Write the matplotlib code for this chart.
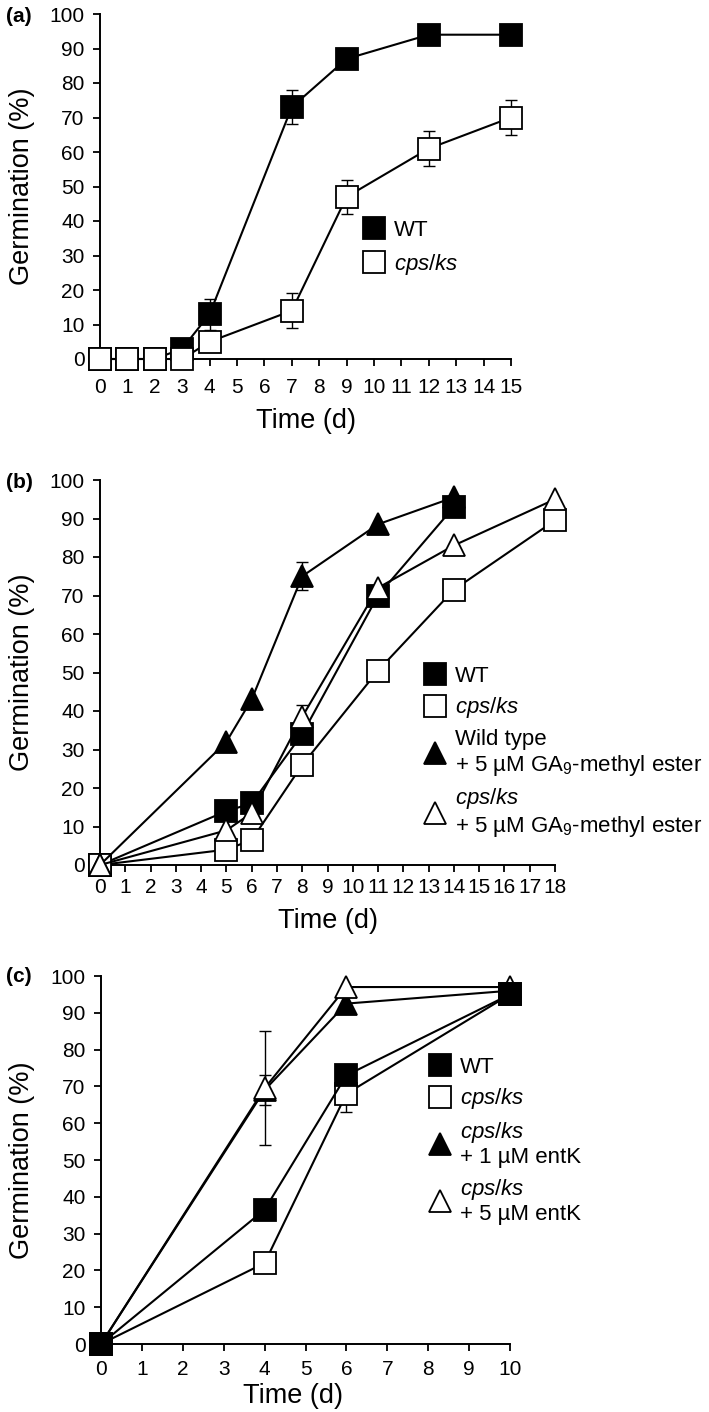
import numpy as np
import matplotlib
matplotlib.use("Agg")
import matplotlib.pyplot as plt
import matplotlib.transforms as mtransforms
from matplotlib.lines import Line2D

plt.rcParams['font.family'] = ['Liberation Sans', 'DejaVu Sans']
plt.rcParams['mathtext.fontset'] = 'custom'
plt.rcParams['mathtext.rm'] = 'Liberation Sans'
plt.rcParams['mathtext.it'] = 'Liberation Sans:italic'
plt.rcParams['mathtext.bf'] = 'Liberation Sans:bold'

# ---------------- data ----------------
# panel (a)
a_days = [0, 1, 2, 3, 4, 7, 9, 12, 15]
a_wt = [0, 0, 0, 3, 13, 73, 87, 94, 94]
a_wt_err = [0, 0, 0, 0, 4.5, 5, 0, 0, 0]
a_cps = [0, 0, 0, 0, 5, 14, 47, 61, 70]
a_cps_err = [0, 0, 0, 0, 0, 5, 5, 5, 5]
a_ticks = list(range(0, 16))

# panel (b)
b_days_short = [0, 5, 6, 8, 11, 14]
b_days_long = [0, 5, 6, 8, 11, 14, 18]
b_wt = [0, 14, 16, 34, 70, 93]
b_cps = [0, 4, 6.5, 26, 50.5, 71.5, 89.5]
b_wtga = [0, 32, 43, 75, 88.5, 95.5]
b_wtga_err = [0, 0, 0, 3.7, 0, 0]
b_cpsga = [0, 9, 13.5, 38.5, 72, 83, 95]
b_cpsga_err = [0, 0, 0, 3, 0, 0, 0]
b_ticks = list(range(0, 19))

# panel (c)
c_days = [0, 4, 6, 10]
c_wt = [0, 36.5, 73, 95]
c_cps = [0, 22, 68, 95]
c_cps_err = [0, 0, 5, 0]
c_ek1 = [0, 69, 92.5, 96]
c_ek1_err = [0, 4, 0, 0]
c_ek5 = [0, 69.5, 97, 97]
c_ek5_err = [0, 15.5, 0, 0]
c_ticks = list(range(0, 11))

y_ticks = list(range(0, 101, 10))

# ---------------- style ----------------
W, H = 709, 1412
fig = plt.figure(figsize=(W / 100, H / 100), dpi=100)

MS = 16.5
LW = 1.5
MEW = 1.3
TICK_FS = 15
LAB_FS = 19.5
LEG_FS = 16

sq_fill = dict(marker='s', markersize=MS, markerfacecolor='black', markeredgecolor='black', markeredgewidth=MEW)
sq_open = dict(marker='s', markersize=MS, markerfacecolor='white', markeredgecolor='black', markeredgewidth=MEW)
tr_fill = dict(marker='^', markersize=MS, markerfacecolor='black', markeredgecolor='black', markeredgewidth=MEW)
tr_open = dict(marker='^', markersize=MS, markerfacecolor='white', markeredgecolor='black', markeredgewidth=MEW)


def px_axes(left, right, top, bottom):
    return fig.add_axes([left / W, 1 - bottom / H, (right - left) / W, (bottom - top) / H])


def style_axes(ax, xmax, ticks, label_y_px, xpad, xlabel_x=0.5):
    ax.set_xlim(0, xmax)
    ax.set_ylim(0, 100)
    ax.set_xticks(ticks)
    ax.set_xticklabels([str(t) for t in ticks])
    ax.set_yticks(y_ticks)
    for s in ['top', 'right']:
        ax.spines[s].set_visible(False)
    for s in ['left', 'bottom']:
        ax.spines[s].set_linewidth(1.4)
    ax.tick_params(direction='out', length=5, width=1.3, labelsize=TICK_FS)
    ax.tick_params(axis='x', pad=xpad)
    ax.tick_params(axis='y', pad=6)
    ax.set_ylabel('Germination (%)', fontsize=LAB_FS)
    tr = mtransforms.blended_transform_factory(fig.transFigure, ax.transAxes)
    ax.yaxis.set_label_coords(35 / W, 0.5, transform=tr)
    ax.set_xlabel('Time (d)', fontsize=LAB_FS, va='center')
    tr2 = mtransforms.blended_transform_factory(ax.transAxes, fig.transFigure)
    ax.xaxis.set_label_coords(xlabel_x, 1 - label_y_px / H, transform=tr2)


def series(ax, x, y, err, style, z):
    if err is not None:
        x_arr = np.array(x, dtype=float)
        e_arr = np.array(err, dtype=float)
        m = e_arr > 0
        ax.errorbar(x_arr[m], np.array(y, dtype=float)[m], yerr=e_arr[m], fmt='none',
                    ecolor='black', elinewidth=1.0, capsize=4, capthick=1.0,
                    zorder=z - 0.5, clip_on=False)
    ax.plot(x, y, color='black', linewidth=LW, zorder=z, clip_on=False, **style)


def legend(ax, handles, labels, x, y, ls=0.55):
    leg = ax.legend(handles, labels, loc='upper left', bbox_to_anchor=(x, y),
                    frameon=False, fontsize=LEG_FS, handlelength=1.0,
                    handletextpad=0.4, labelspacing=ls, borderpad=0,
                    borderaxespad=0, numpoints=1)
    for t in leg.get_texts():
        t.set_linespacing(1.15)
    return leg


def h(style):
    return Line2D([], [], linestyle='none', **style)


CPS = r'$\mathit{cps/ks}$'

# ---------------- panel (a) ----------------
axa = px_axes(100, 511, 14, 359)
series(axa, a_days, a_wt, a_wt_err, sq_fill, 3)
series(axa, a_days, a_cps, a_cps_err, sq_open, 4)
style_axes(axa, 15, a_ticks, 421, xpad=8.5)
legend(axa, [h(sq_fill), h(sq_open)], ['WT', CPS], (363 - 100) / 411, (359 - 220) / 345, ls=0.5)
fig.text(19 / W, 1 - 16 / H, '(a)', fontsize=15, fontweight='bold', ha='center', va='center')

# ---------------- panel (b) ----------------
axb = px_axes(100, 555, 480, 865)
series(axb, b_days_short, b_wt, None, sq_fill, 3)
series(axb, b_days_long, b_cps, None, sq_open, 4)
series(axb, b_days_short, b_wtga, b_wtga_err, tr_fill, 5)
series(axb, b_days_long, b_cpsga, b_cpsga_err, tr_open, 6)
style_axes(axb, 18, b_ticks, 921, xpad=4.5)
legend(axb, [h(sq_fill), h(sq_open), h(tr_fill), h(tr_open)],
       ['WT', CPS, 'Wild type\n+ 5 µM GA$_9$-methyl ester', CPS + '\n+ 5 µM GA$_9$-methyl ester'],
       (424 - 100) / 455, (865 - 666) / 385, ls=0.38)
fig.text(19 / W, 1 - 482 / H, '(b)', fontsize=15, fontweight='bold', ha='center', va='center')

# ---------------- panel (c) ----------------
axc = px_axes(101, 510, 976, 1344)
series(axc, c_days, c_ek1, c_ek1_err, tr_fill, 3)
series(axc, c_days, c_ek5, c_ek5_err, tr_open, 4)
series(axc, c_days, c_cps, c_cps_err, sq_open, 5)
series(axc, c_days, c_wt, None, sq_fill, 6)
style_axes(axc, 10, c_ticks, 1396, xpad=6.5, xlabel_x=(293 - 101) / 409)
legend(axc, [h(sq_fill), h(sq_open), h(tr_fill), h(tr_open)],
       ['WT', CPS, CPS + '\n+ 1 µM entK', CPS + '\n+ 5 µM entK'],
       (429 - 101) / 409, (1344 - 1057) / 368, ls=0.38)
fig.text(19 / W, 1 - 977 / H, '(c)', fontsize=15, fontweight='bold', ha='center', va='center')

fig.savefig('out.png', dpi=100)
